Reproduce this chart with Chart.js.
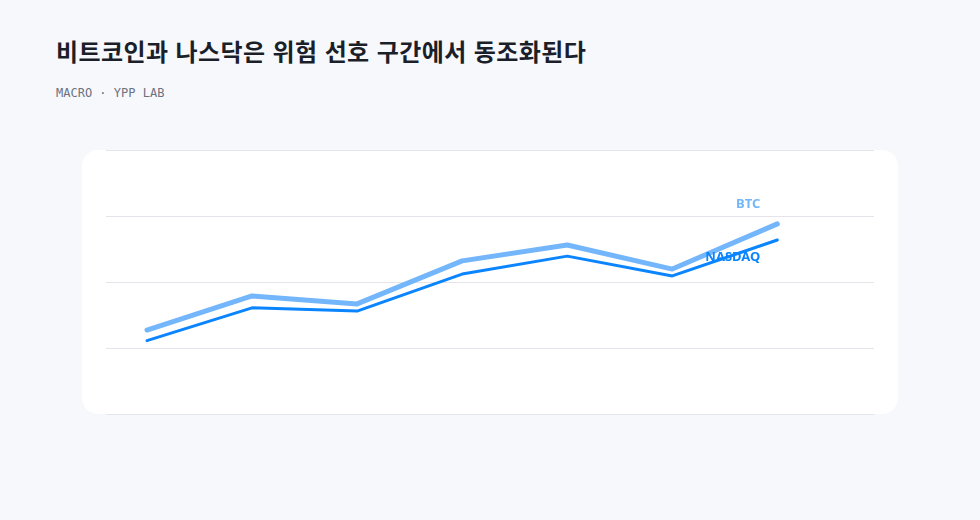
<!DOCTYPE html>
<html lang="ko">
<head>
<meta charset="UTF-8" />
<title>BTC vs NASDAQ</title>
<script src="https://cdn.jsdelivr.net/npm/chart.js@4.4.1/dist/chart.umd.min.js"></script>
<style>
	html, body { margin: 0; padding: 0; }
	body { width: 980px; height: 520px; background: #f7f8fc; position: relative; overflow: hidden; }
	h1 {
		position: absolute; left: 56px; top: 33px; margin: 0;
		font: 700 24px "Noto Sans CJK KR", "Noto Sans", sans-serif;
		color: #1b1f2a; letter-spacing: 0.4px;
	}
	.sub {
		position: absolute; left: 56px; top: 86px;
		font: 400 12px "DejaVu Sans Mono", monospace; color: #6b7280;
	}
	.card {
		position: absolute; left: 82px; top: 150px; width: 816px; height: 264px;
		background: #ffffff; border-radius: 16px;
	}
	.wrap { position: absolute; left: 96px; top: 140px; width: 788px; height: 284px; }
</style>
</head>
<body>
	<h1>비트코인과 나스닥은 위험 선호 구간에서 동조화된다</h1>
	<div class="sub">MACRO · YPP LAB</div>
	<div class="card"></div>
	<div class="wrap"><canvas id="chart"></canvas></div>
	<script>
		// seven periods, no labels shown on the axis
		const periods = ["1", "2", "3", "4", "5", "6", "7"];
		const btc = [31.8, 44.7, 41.7, 58.0, 64.0, 54.9, 72.0];
		const nasdaq = [27.8, 40.2, 39.0, 53.0, 59.8, 52.3, 65.9];

		const toPoints = (vals) => vals.map((v, i) => ({ x: i, y: v }));

		// name tags next to the last point of each line
		const endLabels = {
			id: "endLabels",
			afterDatasetsDraw(chart) {
				const ctx = chart.ctx;
				ctx.save();
				ctx.font = "700 13px 'Noto Sans', sans-serif";
				ctx.textAlign = "right";
				ctx.textBaseline = "middle";
				chart.data.datasets.forEach((ds, i) => {
					const pts = chart.getDatasetMeta(i).data;
					const last = pts[pts.length - 1];
					ctx.fillStyle = ds.borderColor;
					ctx.fillText(ds.label, last.x - 17, last.y + ds.tagDy);
				});
				ctx.restore();
			},
		};

		new Chart(document.getElementById("chart"), {
			type: "line",
			data: {
				labels: periods,
				datasets: [
					{
						label: "BTC",
						data: toPoints(btc),
						borderColor: "#74b6fb",
						borderWidth: 5,
						tagDy: -20,
					},
					{
						label: "NASDAQ",
						data: toPoints(nasdaq),
						borderColor: "#0a84ff",
						borderWidth: 3,
						tagDy: 17,
					},
				],
			},
			options: {
				responsive: true,
				maintainAspectRatio: false,
				animation: false,
				layout: { padding: 10 },
				elements: {
					point: { radius: 0, hoverRadius: 0 },
					line: { tension: 0, borderCapStyle: "round", borderJoinStyle: "round", fill: false },
				},
				plugins: {
					legend: { display: false },
					tooltip: { enabled: false },
				},
				scales: {
					x: { type: "linear", display: false, min: -0.39, max: 6.92 },
					y: {
						min: 0,
						max: 100,
						ticks: { display: false, stepSize: 25 },
						border: { display: false },
						grid: { color: "#e3e5ea", lineWidth: 1, drawTicks: false },
					},
				},
			},
			plugins: [endLabels],
		});
	</script>
</body>
</html>
